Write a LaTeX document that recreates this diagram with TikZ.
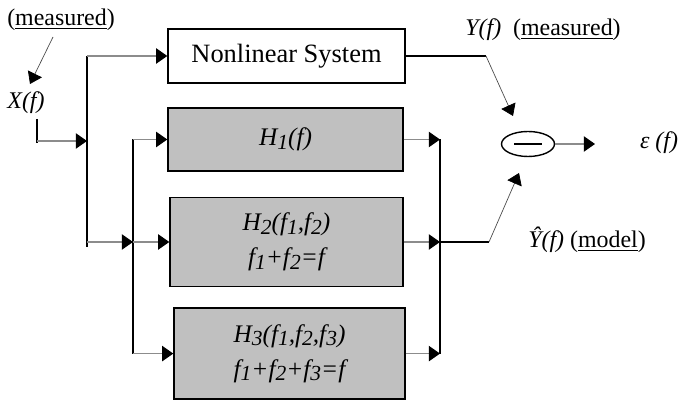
\documentclass[tikz,border=0pt]{standalone}
\usepackage{fontspec}
\setmainfont{Liberation Serif}
\usepackage{graphicx}
\usepackage{tikz}
\usetikzlibrary{shapes.geometric, arrows.meta, positioning, calc}
\definecolor{boxgray}{RGB}{192, 192, 192}
\definecolor{wiregray}{RGB}{140, 140, 140}
% near full-size index, only slightly lowered
\newcommand{\lowidx}[1]{\raisebox{-0.3ex}{\scalebox{0.85}{#1}}}

\begin{document}
\begin{tikzpicture}[
    lbl/.style={font=\fontsize{17}{20}\selectfont},
    sysbox/.style={draw=black, line width=1pt, inner sep=2pt},
    kernel/.style={sysbox, fill=boxgray, align=center, font=\fontsize{18}{25}\selectfont\itshape},
    bus/.style={draw=black, line width=1pt},
    wire/.style={draw=wiregray, line width=0.8pt, -{Triangle[length=8pt, width=11pt, color=black]}},
    lead/.style={draw=black!70, line width=0.5pt, -{Triangle[length=8pt, width=11pt, color=black]}}
  ]
  \useasboundingbox (0, 0) rectangle (17.125, 10);

  % === Input side ===
  \node[lbl] (measin) at (1.525, 9.5) {(\underline{measured})};
  \node[lbl] (X) at (0.65, 7.425) {\itshape X(f)};
  \coordinate (measfoot) at (1.325, 9.075);
  \coordinate (Xtip) at (0.75, 7.9);
  \draw[lead] (measfoot) -- (Xtip);

  \coordinate (xtop) at (0.925, 7.025);
  \coordinate (xbot) at (0.925, 6.425);
  \coordinate (xin) at (0.925, 6.475);
  \draw[bus] (xtop) -- (xbot);

  % === System and kernel blocks ===
  \node[sysbox, fill=white, minimum width=5.925cm, minimum height=1.35cm,
        font=\fontsize{18.8}{22}\selectfont] (NL) at (7.1625, 8.6) {Nonlinear System};
  \node[kernel, minimum width=5.875cm, minimum height=1.575cm] (H1) at (7.1375, 6.5125)
    {H\lowidx{1}(f)};
  \node[kernel, minimum width=5.825cm, minimum height=2.225cm] (H2) at (7.1625, 3.95)
    {H\lowidx{2}(f\lowidx{1},f\lowidx{2})\\f\lowidx{1}+f\lowidx{2}=f};
  \node[kernel, minimum width=5.775cm, minimum height=2.275cm] (H3) at (7.2375, 1.16)
    {H\lowidx{3}(f\lowidx{1},f\lowidx{2},f\lowidx{3})\\f\lowidx{1}+f\lowidx{2}+f\lowidx{3}=f};

  % Splitting buses
  \coordinate (b1top) at (2.175, 8.6);
  \coordinate (b1in) at (2.175, 6.475);
  \coordinate (b1bot) at (2.175, 3.825);
  \coordinate (b1out) at (2.175, 3.95);
  \coordinate (b2top) at (3.325, 6.5125);
  \coordinate (b2in) at (3.325, 3.95);
  \coordinate (b2bot) at (3.325, 1.16);
  \draw[bus] (b1top) -- (b1bot);
  \draw[bus] (b2top) -- (b2bot);

  \draw[wire] (xin) -- (b1in);
  \draw[wire] (b1top) -- (NL.west);
  \draw[wire] (b1out) -- (b2in);
  \draw[wire] (b2top) -- (H1.west);
  \draw[wire] (b2in) -- (H2.west);
  \draw[wire] (b2bot) -- (H3.west);

  % Summing bus
  \coordinate (b3top) at (11.0, 6.5125);
  \coordinate (b3mid) at (11.0, 3.95);
  \coordinate (b3bot) at (11.0, 1.16);
  \draw[bus] (b3top) -- (b3bot);
  \draw[wire] (H1.east) -- (b3top);
  \draw[wire] (H2.east) -- (b3mid);
  \draw[wire] (H3.east) -- (b3bot);

  % === Error ===
  \node[draw, ellipse, line width=1pt, minimum width=1.325cm, minimum height=0.625cm,
        inner sep=0pt] (sub) at (13.2, 6.4) {\rule[-0.6pt]{0.68cm}{1.2pt}};

  \coordinate (ykink) at (12.15, 8.6);
  \coordinate (ytip) at (12.825, 7.1);
  \draw[bus] (NL.east) -- (ykink);
  \draw[lead] (ykink) -- (ytip);

  \coordinate (hkink) at (12.225, 3.95);
  \coordinate (htip) at (12.975, 5.675);
  \draw[bus] (b3mid) -- (hkink);
  \draw[lead] (hkink) -- (htip);

  \coordinate (etip) at (14.875, 6.4);
  \draw[wire] (sub) -- (etip);

  % Labels
  \node[lbl] (eps) at (16.475, 6.425) {\itshape ε (f)};
  \node[lbl] (ymeas) at (13.575, 9.25) {\textit{Y(f)}\ \ (\underline{measured})};
  \node[lbl] (yhat) at (14.675, 4.0) {\textit{Ŷ(f)} (\underline{model})};
\end{tikzpicture}
\end{document}
